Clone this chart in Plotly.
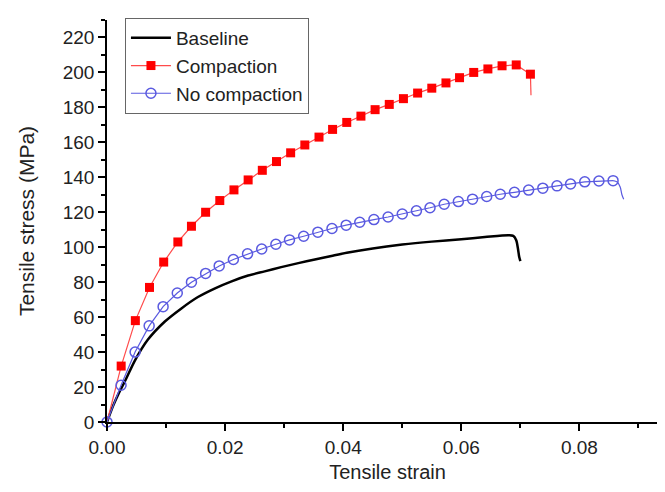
import plotly.graph_objects as go

# ---- data ----
base_strain = [0.0, 0.001, 0.002, 0.003, 0.0047, 0.0069, 0.0098, 0.0126, 0.0154, 0.0183,
               0.0211, 0.0239, 0.0267, 0.0295, 0.0324, 0.0352, 0.038, 0.0406, 0.045, 0.050,
               0.055, 0.060, 0.064, 0.068, 0.0688, 0.0693, 0.0696, 0.0698, 0.0700]
base_stress = [0, 9, 16.5, 23, 35, 47, 57.5, 65, 71.5, 76.5,
               80.5, 83.8, 86.2, 88.6, 90.9, 93, 95, 96.8, 99.3, 101.5,
               103.2, 104.6, 105.8, 106.8, 106.5, 104, 99, 94.5, 92]

comp_strain = [0.0024, 0.0048, 0.0072, 0.0096, 0.0120, 0.0143, 0.0167, 0.0191, 0.0215, 0.0239,
               0.0263, 0.0287, 0.0311, 0.0335, 0.0359, 0.0382, 0.0406, 0.0430, 0.0454, 0.0478,
               0.0502, 0.0526, 0.0550, 0.0574, 0.0597, 0.0621, 0.0645, 0.0669, 0.0693, 0.0717]
comp_stress = [32, 58, 77, 91.5, 103, 112, 120, 126.7, 132.8, 138.5,
               144, 149, 154, 158.5, 163, 167.4, 171.4, 175, 178.7, 181.7,
               185, 188.2, 191, 194, 197, 200, 202, 203.8, 204.3, 199]
comp_head_strain = [0.0, 0.0024]
comp_head_stress = [0, 32]
comp_tail_strain = [0.0717, 0.0718]
comp_tail_stress = [199, 187]

noc_strain = [0.0, 0.00238, 0.00476, 0.00714, 0.0095, 0.0119, 0.0143, 0.0167, 0.0190, 0.0214,
              0.0238, 0.0262, 0.0286, 0.0309, 0.0333, 0.0357, 0.0381, 0.0405, 0.0428, 0.0452,
              0.0476, 0.0500, 0.0524, 0.0547, 0.0571, 0.0595, 0.0619, 0.0643, 0.0666, 0.0690,
              0.0714, 0.0738, 0.0762, 0.0785, 0.0809, 0.0833, 0.0857]
noc_stress = [0, 21, 40, 55, 66, 73.8, 80, 85, 89.3, 93,
              96.2, 99, 101.7, 104.2, 106.3, 108.6, 110.7, 112.6, 114.3, 115.8,
              117.3, 119, 120.8, 122.6, 124.6, 126.1, 127.5, 129, 130.3, 131.4,
              132.7, 133.8, 135.1, 136.2, 137.4, 137.9, 138.1]
noc_tail_strain = [0.0857, 0.0864, 0.0869, 0.0872, 0.0875]
noc_tail_stress = [138.1, 137.3, 134.5, 130, 127.5]

x_ticks = [0.0, 0.02, 0.04, 0.06, 0.08]
x_tick_labels = ["0.00", "0.02", "0.04", "0.06", "0.08"]
y_ticks = [0, 20, 40, 60, 80, 100, 120, 140, 160, 180, 200, 220]

RED_LINE = "#ff4b4b"
RED = "#ff0000"
BLUE = "#5a5ae0"
FONT = "Liberation Sans, Arial, sans-serif"

fig = go.Figure()

fig.add_trace(go.Scatter(x=base_strain, y=base_stress, mode="lines", name="Baseline",
                         line=dict(color="black", width=2.5, shape="spline", smoothing=0.8),
                         cliponaxis=False))

fig.add_trace(go.Scatter(x=comp_head_strain, y=comp_head_stress, mode="lines", showlegend=False,
                         line=dict(color=RED_LINE, width=1.2), cliponaxis=False, hoverinfo="skip"))
fig.add_trace(go.Scatter(x=comp_tail_strain, y=comp_tail_stress, mode="lines", showlegend=False,
                         line=dict(color=RED_LINE, width=1.2), cliponaxis=False, hoverinfo="skip"))
fig.add_trace(go.Scatter(x=comp_strain, y=comp_stress, mode="lines+markers", name="Compaction",
                         line=dict(color=RED_LINE, width=1.2),
                         marker=dict(symbol="square", size=9, color=RED, line=dict(width=0)),
                         cliponaxis=False))

fig.add_trace(go.Scatter(x=noc_tail_strain, y=noc_tail_stress, mode="lines", showlegend=False,
                         line=dict(color=BLUE, width=1.2, shape="spline"), cliponaxis=False,
                         hoverinfo="skip"))
fig.add_trace(go.Scatter(x=noc_strain, y=noc_stress, mode="lines+markers", name="No compaction",
                         line=dict(color=BLUE, width=1.2),
                         marker=dict(symbol="circle-open", size=10, color=BLUE, line=dict(width=1.5)),
                         cliponaxis=False))

axis_font = dict(family=FONT, size=19, color="#222")

fig.update_layout(
    width=665, height=492,
    margin=dict(l=99, r=5, t=12, b=78),
    paper_bgcolor="white", plot_bgcolor="white",
    font=dict(family=FONT, color="#222"),
    showlegend=True,
    legend=dict(x=0.032, y=1.005, xanchor="left", yanchor="top",
                bgcolor="white", bordercolor="#666", borderwidth=1,
                font=dict(family=FONT, size=19, color="#222"),
                tracegroupgap=0, itemwidth=40),
    xaxis=dict(range=[0, 0.095], showline=True, linecolor="black", linewidth=1.5,
               showgrid=False, zeroline=False, ticks="outside", ticklen=7, tickwidth=1.5,
               tickcolor="black", tickvals=x_ticks, ticktext=x_tick_labels, tickfont=axis_font,
               minor=dict(dtick=0.01, ticks="outside", ticklen=4, tickwidth=1.5, tickcolor="black",
                          showgrid=False),
               title=dict(text="Tensile strain", font=dict(size=20, color="#222", family=FONT),
                          standoff=8)),
    yaxis=dict(range=[0, 230], showline=True, linecolor="black", linewidth=1.5,
               showgrid=False, zeroline=False, ticks="outside", ticklen=7, tickwidth=1.5,
               tickcolor="black", tickvals=y_ticks, tickfont=axis_font,
               minor=dict(dtick=10, ticks="outside", ticklen=4, tickwidth=1.5, tickcolor="black",
                          showgrid=False),
               title=dict(text="Tensile stress (MPa)", font=dict(size=21, color="#222", family=FONT),
                          standoff=22)),
)

fig.write_html("out.html")
